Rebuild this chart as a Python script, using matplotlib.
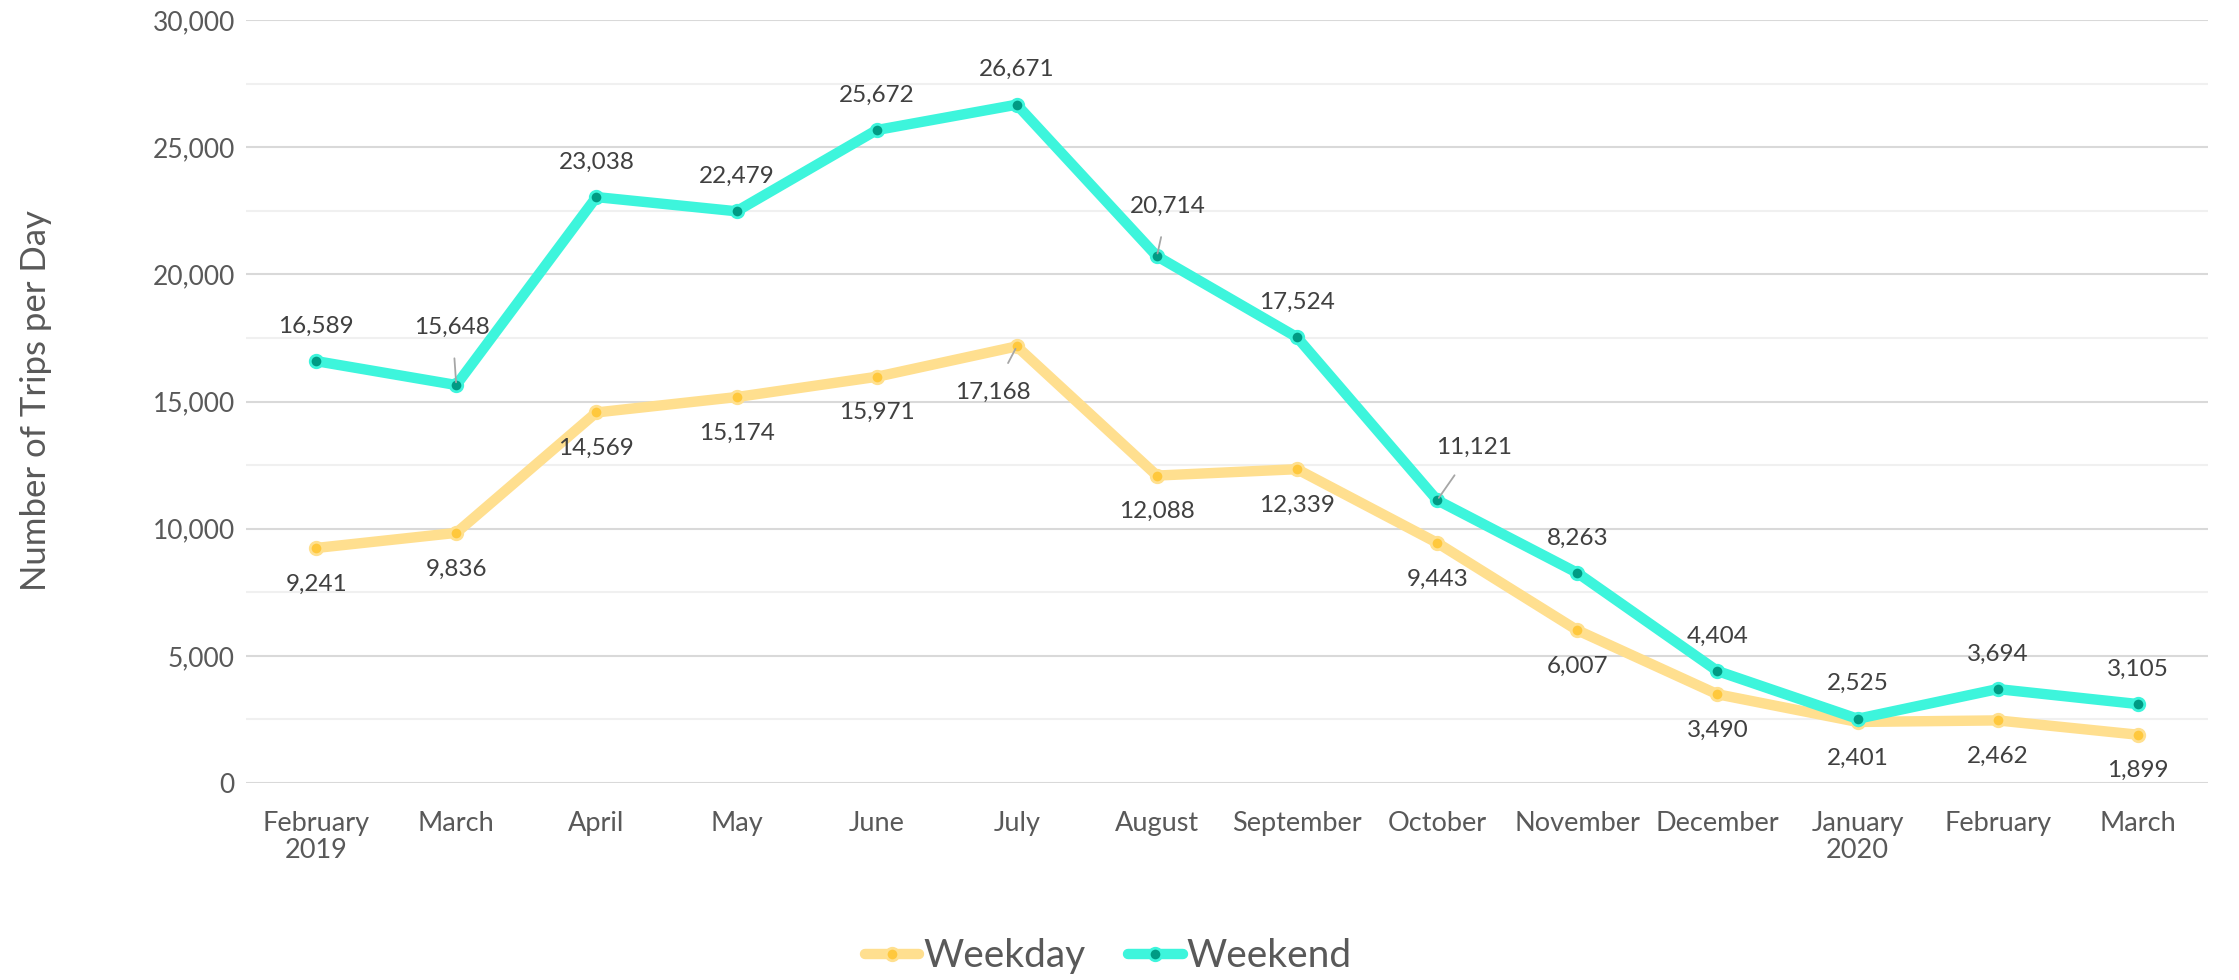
from matplotlib import pyplot as plt
import matplotlib.ticker as plticker
import numpy as np

months = ["February\n2019", "March", "April", "May", "June", "July", "August",
          "September", "October", "November", "December", "January\n2020",
          "February", "March"]
weekday = [9241, 9836, 14569, 15174, 15971, 17168, 12088, 12339, 9443, 6007,
           3490, 2401, 2462, 1899]
weekend = [16589, 15648, 23038, 22479, 25672, 26671, 20714, 17524, 11121, 8263,
           4404, 2525, 3694, 3105]

plt.rcParams['font.family'] = ['Lato', 'DejaVu Sans']
fig = plt.figure(figsize=(22.39, 9.8), dpi=100)
ax = fig.add_axes([0.1099, 0.201, 0.8762, 0.7786])

x = np.arange(len(months))
grey = '#595959'

ax.plot(x, weekday, color='#FFDF8F', lw=7.5, marker='o', markersize=9,
        markerfacecolor='#FFC83D', markeredgecolor='#FFE08F', markeredgewidth=2,
        solid_joinstyle='round', solid_capstyle='round', label='Weekday', zorder=3)
ax.plot(x, weekend, color='#3DF5DC', lw=7.5, marker='o', markersize=9,
        markerfacecolor='#009B84', markeredgecolor='#3DF5DC', markeredgewidth=2,
        solid_joinstyle='round', solid_capstyle='round', label='Weekend', zorder=4)

# label offsets in pixels (dx, dy), leader line flag
wd_off = {i: (0, -36, False) for i in range(len(x))}
wd_off[5] = (-24, -46, True)
we_off = {i: (0, 35, False) for i in range(len(x))}
we_off[1] = (-4, 58, True)
we_off[6] = (11, 50, True)
we_off[8] = (37, 53, True)

def put_labels(vals, offs):
    for i, v in enumerate(vals):
        dx, dy, lead = offs[i]
        kw = {}
        if lead:
            kw['arrowprops'] = dict(arrowstyle='-', color='#A6A6A6', lw=1.3,
                                    shrinkA=13, shrinkB=2)
        ax.annotate(f"{v:,}", (x[i], v), xytext=(dx, dy), textcoords='offset pixels',
                    ha='center', va='center', fontsize=17.5, color='#404040', zorder=6, **kw)

put_labels(weekday, wd_off)
put_labels(weekend, we_off)

ax.set_xlim(-0.5, len(x) - 0.5)
ax.set_ylim(0, 30000)
ax.yaxis.set_major_locator(plticker.MultipleLocator(5000))
ax.yaxis.set_minor_locator(plticker.MultipleLocator(2500))
ax.yaxis.set_major_formatter(plticker.FuncFormatter(lambda v, p: f"{int(v):,}"))
ax.grid(axis='y', which='major', color='#D9D9D9', lw=1.5)
ax.grid(axis='y', which='minor', color='#F0F0F0', lw=1.5)
ax.set_axisbelow(True)
for s in ax.spines.values():
    s.set_visible(False)
ax.tick_params(axis='both', which='both', length=0, colors=grey)
ax.tick_params(axis='y', pad=8, labelsize=19)
ax.tick_params(axis='x', pad=20, labelsize=19.5)
ax.set_xticks(x)
ax.set_xticklabels(months, linespacing=1.1)

fig.text(0.016, 0.591, "Number of Trips per Day", rotation=90, ha='center', va='center',
         fontsize=25, color=grey)

fig.legend(loc='center', bbox_to_anchor=(0.495, 0.024), ncol=2, frameon=False,
           fontsize=28, labelcolor=grey, handlelength=1.4, handletextpad=0.1,
           columnspacing=1.1)

plt.savefig('out.png', dpi=100)
